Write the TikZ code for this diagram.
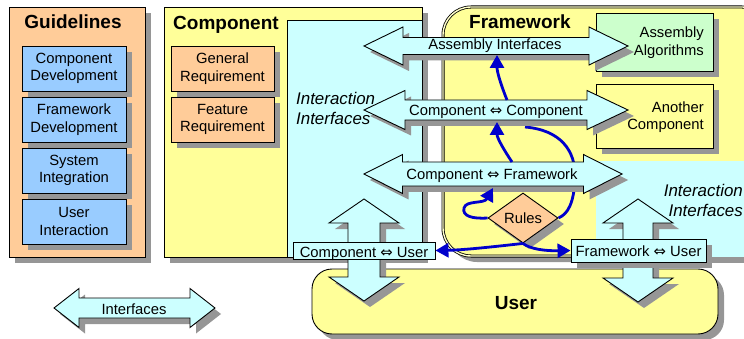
\documentclass[tikz,border=0pt]{standalone}
\usepackage{fontspec}
\setmainfont{Liberation Sans}
\newfontfamily\arrowsymfont{DejaVu Sans}
\usetikzlibrary{arrows.meta,shapes.geometric,shadows}

\definecolor{cyanfill}{HTML}{CCFFFF}
\definecolor{yellowfill}{HTML}{FFFF99}
\definecolor{orangefill}{HTML}{FFCC99}
\definecolor{bluefill}{HTML}{99CCFF}
\definecolor{greenfill}{HTML}{CCFFCC}
\definecolor{shadowgray}{HTML}{969696}
\definecolor{linkblue}{HTML}{0000CC}

\newcommand\dblarr{{\arrowsymfont\char"21D4}}

\tikzset{
  plainbox/.style={draw=black, line width=0.9pt, inner sep=0pt, align=center,
    font=\fontsize{14.8}{17.5}\selectfont},
  shd/.style={drop shadow={shadow xshift=6pt, shadow yshift=-6pt, fill=shadowgray, opacity=1}},
  txt/.style={inner sep=0pt, align=center, font=\fontsize{14.8}{17.5}\selectfont},
  headtxt/.style={inner sep=0pt, font=\bfseries\fontsize{19}{22}\selectfont},
  itxt/.style={inner sep=0pt, align=left, font=\itshape\fontsize{16.9}{20}\selectfont},
  link/.style={draw=linkblue, line width=2.8pt, -{Triangle[length=13pt,width=14pt]}},
  arrowbody/.style={fill=cyanfill, draw=black, line width=0.9pt, line join=miter},
}

% horizontal double arrow with drop shadow:
% left tip, right tip, centre y, head length, shaft half height, head half height
\newcommand\hArrow[6]{%
  \fill[shadowgray, shift={(6,6)}] (#1,#3) -- ({#1+#4},{#3-#6}) -- ({#1+#4},{#3-#5})
    -- ({#2-#4},{#3-#5}) -- ({#2-#4},{#3-#6}) -- (#2,#3) -- ({#2-#4},{#3+#6})
    -- ({#2-#4},{#3+#5}) -- ({#1+#4},{#3+#5}) -- ({#1+#4},{#3+#6}) -- cycle;
  \filldraw[arrowbody] (#1,#3) -- ({#1+#4},{#3-#6}) -- ({#1+#4},{#3-#5})
    -- ({#2-#4},{#3-#5}) -- ({#2-#4},{#3-#6}) -- (#2,#3) -- ({#2-#4},{#3+#6})
    -- ({#2-#4},{#3+#5}) -- ({#1+#4},{#3+#5}) -- ({#1+#4},{#3+#6}) -- cycle;
}
% vertical double arrow with drop shadow:
% centre x, top tip, bottom tip, head length, shaft half width, head half width
\newcommand\vArrow[6]{%
  \fill[shadowgray, shift={(6,6)}] (#1,#2) -- ({#1+#6},{#2+#4}) -- ({#1+#5},{#2+#4})
    -- ({#1+#5},{#3-#4}) -- ({#1+#6},{#3-#4}) -- (#1,#3) -- ({#1-#6},{#3-#4})
    -- ({#1-#5},{#3-#4}) -- ({#1-#5},{#2+#4}) -- ({#1-#6},{#2+#4}) -- cycle;
  \filldraw[arrowbody] (#1,#2) -- ({#1+#6},{#2+#4}) -- ({#1+#5},{#2+#4})
    -- ({#1+#5},{#3-#4}) -- ({#1+#6},{#3-#4}) -- (#1,#3) -- ({#1-#6},{#3-#4})
    -- ({#1-#5},{#3-#4}) -- ({#1-#5},{#2+#4}) -- ({#1-#6},{#2+#4}) -- cycle;
}

\begin{document}
\begin{tikzpicture}[x=1pt,y=-1pt]
\useasboundingbox (0,0) rectangle (744,339);
\clip (0,0) rectangle (744,339);

% ---------------- Guidelines column ----------------
\node[plainbox, shd, fill=orangefill, minimum width=136pt, minimum height=250pt] (guide) at (77,132) {};
\node[headtxt, anchor=base] (guidetitle) at (73,29) {Guidelines};
\node[plainbox, shd, fill=bluefill, minimum width=104pt, minimum height=45pt] (cdev) at (74,68.5) {Component\\Development};
\node[plainbox, shd, fill=bluefill, minimum width=104pt, minimum height=45pt] (fdev) at (74,119.5) {Framework\\Development};
\node[plainbox, shd, fill=bluefill, minimum width=104pt, minimum height=45pt] (sint) at (74,170.5) {System\\Integration};
\node[plainbox, shd, fill=bluefill, minimum width=104pt, minimum height=45pt] (uint) at (74,221.5) {User\\Interaction};

% ---------------- Component ----------------
\node[plainbox, shd, fill=yellowfill, minimum width=258pt, minimum height=250pt] (comp) at (293,132) {};
\node[headtxt, anchor=base west] (comptitle) at (173,29.5) {Component};
\node[plainbox, shd, fill=orangefill, minimum width=103pt, minimum height=45pt] (genreq) at (222.5,68.5) {General\\Requirement};
\node[plainbox, shd, fill=orangefill, minimum width=103pt, minimum height=45pt] (featreq) at (222.5,119.5) {Feature\\Requirement};
\node[plainbox, fill=cyanfill, minimum width=135pt, minimum height=237pt] (compif) at (354.5,138.5) {};

% ---------------- Framework ----------------
\node[draw=black, line width=0.8pt, double=yellowfill!50!white, double distance=1.4pt,
      fill=yellowfill, rounded corners=28pt, shd, minimum width=327pt, minimum height=249pt] (frame) at (606.5,131.5) {};
\node[headtxt, anchor=base west] (frametitle) at (469,29) {Framework};
\node[plainbox, shd, fill=greenfill, minimum width=117pt, minimum height=58pt] (asmalg) at (654.5,42) {};
\node[txt, align=right, anchor=east] (asmalgtxt) at (704,42.5) {Assembly\\Algorithms};
\node[plainbox, shd, fill=yellowfill, minimum width=117pt, minimum height=64pt] (another) at (654.5,116) {};
\node[txt, align=right, anchor=east] (anothertxt) at (704,117) {Another\\Component};

% interaction area on the framework side
\node[shd, fill=cyanfill, inner sep=0pt, minimum width=174pt, minimum height=96pt] (frameif) at (683,209) {};

% rules
\node[diamond, draw=black, line width=0.9pt, fill=orangefill, shd, inner sep=0pt, aspect=1.4,
      minimum width=70pt, minimum height=50pt, font=\fontsize{14.8}{17.5}\selectfont] (rules) at (523,218) {Rules};

% link from the rules up to the component-to-component interface (runs behind the arrows)
\coordinate (ccBelow) at (525,127);
\draw[linkblue, line width=2.8pt] (ccBelow) .. controls (560,130) and (576,150) .. (575,178)
      .. controls (574,203) and (568,214) .. (rules.east);

% ---------------- horizontal interfaces ----------------
\hArrow{364}{628}{46}{39}{8.5}{19}
\node[txt, anchor=base] (asmif) at (495,50) {Assembly Interfaces};
\hArrow{364}{628}{110}{41}{10}{19.5}
\node[txt, anchor=base] (ccif) at (496,116) {Component \dblarr{} Component};
\hArrow{364}{622}{174}{38.5}{12}{19.5}
\node[txt, anchor=base] (cfif) at (492,179.5) {Component \dblarr{} Framework};

% ---------------- User ----------------
\node[draw=black, line width=0.9pt, fill=yellowfill, rounded corners=20pt, shd,
      minimum width=406pt, minimum height=65pt] (user) at (515,301.5) {};
\node[headtxt, anchor=base] (usertxt) at (516,309) {User};

% vertical interfaces to the user
\vArrow{364}{199}{301}{24}{16}{35}
\vArrow{638}{199}{302}{24}{15}{35}

% italic captions of the interaction areas
\node[itxt, align=right, anchor=east] (frameiftxt) at (743,200) {Interaction\\Interfaces};
\node[itxt, anchor=west] (compiftxt) at (296,108) {Interaction\\Interfaces};

% user interface labels
\node[plainbox, fill=cyanfill, minimum width=142pt, minimum height=17pt] (cu) at (364,250.5) {};
\node[txt, anchor=base] (cutxt) at (364,257) {Component \dblarr{} User};
\node[plainbox, shd, fill=cyanfill, minimum width=135pt, minimum height=23pt] (fu) at (638.5,250.5) {};
\node[txt, anchor=base] (futxt) at (638.5,256.5) {Framework \dblarr{} User};

% ---------------- blue links ----------------
\coordinate (ccTop) at (507,100);
\coordinate (asmBottom) at (497,55);
\coordinate (cfTop) at (512,162);
\coordinate (ccBottom) at (497,122);
\coordinate (cfBottom) at (493,188);
\draw[link] (ccTop) .. controls (501,85) and (497,72) .. (asmBottom);
\draw[link] (cfTop) .. controls (504,150) and (497,138) .. (ccBottom);
\draw[link] (rules.west) .. controls (472,219) and (462,216) .. (464,208)
      .. controls (466,200) and (484,204) .. (cfBottom);
\draw[link] (rules.south) .. controls (500,246) and (465,250) .. (cu.east);
\draw[link] (rules.south) .. controls (530,249) and (545,251) .. (fu.west);

% ---------------- legend ----------------
\hArrow{54}{215}{308}{25}{10}{19.5}
\node[txt, anchor=base] (legendtxt) at (134,314) {Interfaces};
\end{tikzpicture}
\end{document}
